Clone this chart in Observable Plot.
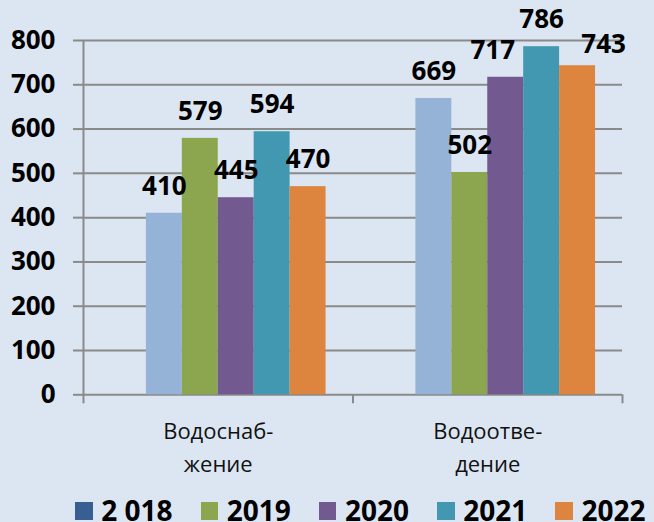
<!DOCTYPE html>
<html><head><meta charset="utf-8">
<script src="https://cdn.jsdelivr.net/npm/d3@7"></script>
<script src="https://cdn.jsdelivr.net/npm/@observablehq/plot@0.6"></script>
<style>
html,body{margin:0;padding:0;background:#dce6f2;overflow:hidden;width:654px;height:522px;}
#chart svg{display:block;}
#legend{display:flex;align-items:flex-start;margin-top:8.8px;padding-left:75px;white-space:nowrap;
  font-family:"Open Sans",sans-serif;font-weight:bold;font-size:28px;line-height:22px;height:22px;color:#000;}
#legend .item{display:flex;align-items:flex-start;margin-right:28px;}
#legend .sw{width:17.7px;height:17.7px;margin-top:3.5px;margin-right:8.5px;flex:none;}
</style></head><body>
<div id="chart"></div>
<div id="legend"></div>
<script>
const groups = ["Водоснаб-\nжение", "Водоотве-\nдение"];
const years = ["2 018", "2019", "2020", "2021", "2022"];
const values2018 = [410, 669];
const values2019 = [579, 502];
const values2020 = [445, 717];
const values2021 = [594, 786];
const values2022 = [470, 743];
const yTicks = [0, 100, 200, 300, 400, 500, 600, 700, 800];

const seriesValues = [values2018, values2019, values2020, values2021, values2022];
const barColors = ["#95b3d7", "#8ba64e", "#72598f", "#4298b1", "#dd843e"];
const legendColors = ["#375f92", "#8ba64e", "#72598f", "#4298b1", "#dd843e"];

const rows = [];
groups.forEach((g, gi) => years.forEach((y, yi) => rows.push({group: g, gi, year: y, yi, value: seriesValues[yi][gi], color: barColors[yi]})));

// inner band within each category (an empty leading slot, as in the original)
const inner = d3.scaleBand().domain(["", ...years]).range([0, 1]).paddingOuter(0.75).paddingInner(0);
const bw = inner.bandwidth();
const xl = d => d.gi + inner(d.year);
const xc = d => d.gi + inner(d.year) + bw / 2;

const nudged = {"1|2020": [-13, 0], "1|2022": [26, 6]};
const key = d => d.gi + "|" + d.year;

const gray = "#8a8a8a";
const labelStyle = {fontSize: 26, fontWeight: "bold", fill: "#000", lineAnchor: "bottom", textAnchor: "middle"};

const marks = [
  Plot.ruleY(yTicks, {stroke: gray, strokeWidth: 2}),
  Plot.axisY({ticks: yTicks, tickSize: 10, tickPadding: 18, stroke: gray, strokeWidth: 2,
    fontSize: 26, fontWeight: "bold", fill: "#000", label: null, tickFormat: d => String(d)}),
  Plot.rectY(rows, {x1: xl, x2: d => xl(d) + bw, y: "value", fill: "color"}),
  Plot.ruleX([0], {y1: 0, y2: 800, stroke: gray, strokeWidth: 2}),
  Plot.axisX({ticks: [0, 1, 2], tickSize: 9, stroke: gray, strokeWidth: 2, tickFormat: () => "", label: null}),
  Plot.text(rows.filter(d => !nudged[key(d)]), {x: xc, y: "value", text: d => String(d.value), dy: -18.5, ...labelStyle}),
  ...rows.filter(d => nudged[key(d)]).map(d => Plot.text([d], {x: xc, y: "value", text: r => String(r.value),
    dx: nudged[key(d)][0], dy: -18.5 + nudged[key(d)][1], ...labelStyle})),
  Plot.text(groups, {x: (d, i) => i + 0.5, frameAnchor: "bottom", lineAnchor: "top", dy: 20.3,
    text: d => d, fontSize: 22, lineHeight: 1.52, fill: "#111", textAnchor: "middle"})
];

const chart = Plot.plot({
  width: 654, height: 490,
  marginLeft: 83, marginRight: 32, marginTop: 40, marginBottom: 95.7,
  style: {background: "transparent", fontFamily: "'Open Sans', sans-serif", overflow: "visible"},
  x: {domain: [0, 2], axis: null},
  y: {domain: [0, 800], axis: null},
  marks
});
document.getElementById("chart").appendChild(chart);

const legend = document.getElementById("legend");
years.forEach((y, i) => {
  const it = document.createElement("div"); it.className = "item";
  const sw = document.createElement("span"); sw.className = "sw"; sw.style.background = legendColors[i];
  const tx = document.createElement("span"); tx.textContent = y;
  it.appendChild(sw); it.appendChild(tx); legend.appendChild(it);
});
</script></body></html>
